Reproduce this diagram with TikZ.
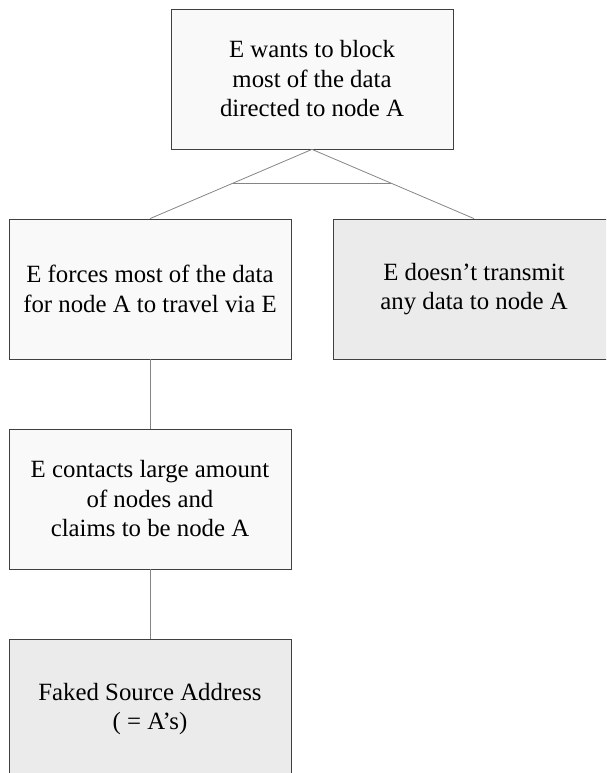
\documentclass[tikz,border=0pt]{standalone}
\usepackage{fontspec}
\setmainfont{Liberation Serif}
\usetikzlibrary{calc}
\definecolor{boxline}{HTML}{404040}
\definecolor{linkline}{HTML}{858585}
\definecolor{paleFill}{HTML}{F9F9F9}
\definecolor{greyFill}{HTML}{EBEBEB}
\begin{document}
\begin{tikzpicture}[x=1pt,y=-1pt,
  goal/.style={draw=boxline, line width=0.8pt, fill=paleFill,
    minimum width=282pt, minimum height=140pt, inner sep=0pt,
    align=center, font=\fontsize{24.8}{29.5}\selectfont},
  leaf/.style={goal, fill=greyFill},
  link/.style={draw=linkline, line width=0.8pt}]
  \useasboundingbox (0,0) rectangle (606,773);
  \clip (0,0) rectangle (606,773);

  % goal tree
  \node[goal] (top) at (312,79) {E wants to block\\most of the data\\directed to node A};
  \node[goal] (force) at (150,289) {E forces most of the data\\for node A to travel via E};
  \node[leaf] (drop) at (474,289) {E doesn’t transmit\\any data to node A};
  \node[goal] (claim) at (150,499) {E contacts large amount\\of nodes and\\claims to be node A};
  \node[leaf] (fake) at (150,709) {Faked Source Address\\( = A’s)};

  % branches from the top goal, joined by an AND bar
  \draw[link] (top.south) -- (force.north);
  \draw[link] (top.south) -- (drop.north);
  \coordinate (andL) at ($(top.south)!0.486!(force.north)$);
  \coordinate (andR) at ($(top.south)!0.486!(drop.north)$);
  \draw[link] (andL) -- (andR);

  % refinement chain
  \draw[link] (force.south) -- (claim.north);
  \draw[link] (claim.south) -- (fake.north);
\end{tikzpicture}
\end{document}
